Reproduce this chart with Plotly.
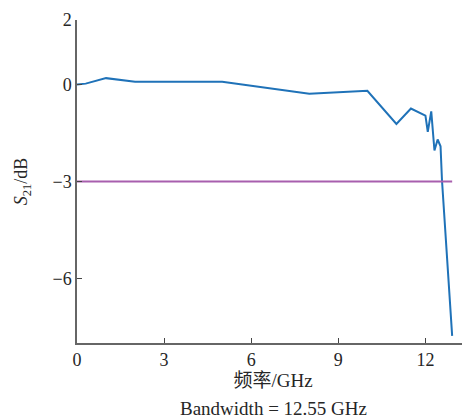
import plotly.graph_objects as go

freq = [0.0, 0.3, 1.0, 2.0, 5.0, 8.0, 10.0, 11.0, 11.5, 12.0, 12.08, 12.2, 12.31, 12.42, 12.52, 12.57, 12.92]
s21 = [0.0, 0.03, 0.2, 0.09, 0.09, -0.28, -0.19, -1.22, -0.74, -0.96, -1.46, -0.83, -2.04, -1.70, -1.91, -2.97, -7.78]
ref_x = [0.0, 12.92]
ref_y = [-3.0, -3.0]
xticks = [0, 3, 6, 9, 12]
yticks = [-6, -3, 0, 2]
ytick_text = ["\u22126", "\u22123", "0", "2"]
bandwidth = 12.55

font_main = "Liberation Serif, Times New Roman, Noto Sans CJK SC, serif"

fig = go.Figure()
fig.add_trace(go.Scatter(x=freq, y=s21, mode="lines",
                         line=dict(color="#1f72b8", width=2), showlegend=False))
fig.add_trace(go.Scatter(x=ref_x, y=ref_y, mode="lines",
                         line=dict(color="#a85fae", width=2), showlegend=False))

fig.update_layout(
    width=462, height=411,
    margin=dict(l=69, r=1, t=12, b=76),
    paper_bgcolor="white", plot_bgcolor="white",
    font=dict(family=font_main, size=18, color="#262626"),
    xaxis=dict(range=[0, 13.5], tickvals=xticks, ticks="inside", ticklen=5,
               tickcolor="#444", showline=True, linecolor="#666", linewidth=1.5,
               showgrid=False, zeroline=False, tickfont=dict(size=18),
               title=dict(text="频率/GHz", standoff=4,
                          font=dict(family=font_main, size=19))),
    yaxis=dict(range=[-8, 2], tickvals=yticks, ticktext=ytick_text,
               ticks="inside", ticklen=5, tickcolor="#444",
               showline=True, linecolor="#666", linewidth=1.5,
               showgrid=False, zeroline=False, tickfont=dict(size=18),
               title=dict(text="<i>S</i><sub>21</sub>/dB", standoff=20,
                          font=dict(family=font_main, size=18))),
    annotations=[dict(text=f"Bandwidth = {bandwidth:.2f} GHz", xref="paper", yref="paper",
                      x=0.5, y=0, yshift=-65, yanchor="middle", showarrow=False,
                      font=dict(family=font_main, size=19, color="#262626"))],
)

fig.write_html("out.html")
